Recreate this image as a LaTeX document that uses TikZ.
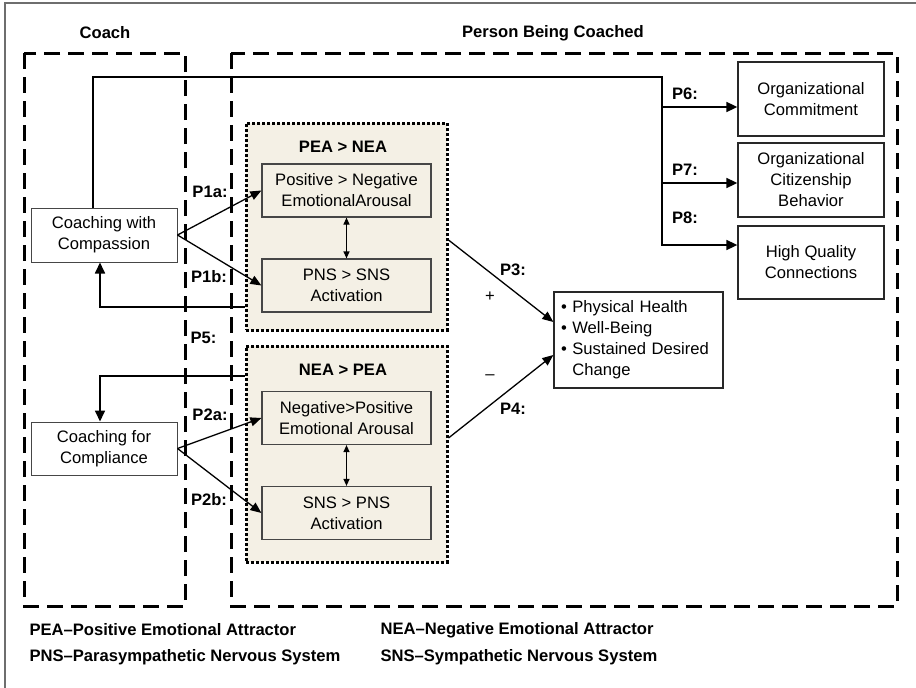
\documentclass[tikz,border=0pt]{standalone}
\usepackage{fontspec}
\setmainfont{Liberation Sans}
\usetikzlibrary{arrows.meta}
\begin{document}
\begin{tikzpicture}[x=1pt,y=-1pt,
  every node/.style={font=\fontsize{16.6}{21}\selectfont,text=black},
  lab/.style={font=\fontsize{16.6}{21}\selectfont\bfseries},
  box/.style={draw=boxcolor,line width=1.3pt,fill=white,align=center,inner sep=0pt,minimum width=146pt},
  innerbox/.style={draw=innercolor,line width=1.2pt,fill=zonecolor,align=center,inner sep=0pt,minimum width=169pt,minimum height=53pt},
  zone/.style={draw=black,line width=3pt,dash pattern=on 3pt off 2pt,fill=zonecolor,inner sep=0pt,minimum width=201pt},
  side/.style={draw=black,line width=3pt,dash pattern=on 16pt off 8pt},
  link/.style={line width=1.7pt,-{Triangle[length=11pt,width=10pt]}},
  fan/.style={line width=1.3pt,-{Triangle[length=11pt,width=9pt]}},
  swap/.style={line width=1.2pt,{Triangle[length=7pt,width=6pt]}-{Triangle[length=7pt,width=6pt]}}]
\definecolor{framecolor}{RGB}{110,110,110}
\definecolor{zonecolor}{RGB}{244,240,229}
\definecolor{boxcolor}{RGB}{40,40,40}
\definecolor{innercolor}{RGB}{70,70,70}
\useasboundingbox (0,0) rectangle (916,688);
\draw [line width=1.3pt,framecolor] (5,688) -- (5,3) -- (916,3);
\node [lab] at (105,33) {Coach};
\node [lab] at (553,33) {Person Being Coached};
\draw [side] (24,53) rectangle (185,606);
\draw [side] (231,53) rectangle (897,606);
\node [zone,minimum height=207pt] (pea) at (346.5,226.5) {};
\node [zone,minimum height=216pt] (nea) at (346.5,454) {};
\node [lab] at (343,147) {PEA > NEA};
\node [lab] at (343,370) {NEA > PEA};
\node [innerbox] (posneg) at (346.5,190.5) {Positive > Negative\\EmotionalArousal};
\node [innerbox] (pns) at (346.5,285.5) {PNS > SNS\\Activation};
\node [innerbox] (negpos) at (346.5,418) {Negative>Positive\\Emotional Arousal};
\node [innerbox] (sns) at (346.5,513) {SNS > PNS\\Activation};
\node [box,draw=innercolor,line width=1pt,minimum height=54pt] (comp) at (104,235) {Coaching with\\Compassion};
\node [box,draw=innercolor,line width=1pt,minimum height=53pt] (compl) at (104,448.5) {Coaching for\\Compliance};
\node [box,minimum height=74pt] (oc) at (811,99) {Organizational\\Commitment};
\node [box,minimum height=74pt] (ocb) at (811,180) {Organizational\\Citizenship\\Behavior};
\node [box,minimum height=73pt] (hqc) at (811,262.5) {High Quality\\Connections};
\node [box,minimum width=169pt,minimum height=96pt,align=left,text width=155pt,inner xsep=7pt] (outcome) at (638.5,340)
  {\textbullet\ Physical Health\\\textbullet\ Well-Being\\\textbullet\ Sustained Desired\\\phantom{\textbullet\ }Change};
\draw [swap] (posneg) -- (pns);
\draw [swap] (negpos) -- (sns);
\draw [fan] (comp.east) -- (posneg.west);
\draw [fan] (comp.east) -- (pns.west);
\draw [fan] (compl.east) -- (negpos.west);
\draw [fan] (compl.east) -- (sns.west);
\draw [link] ([yshift=-80.5pt]pea.west) -| ([xshift=-4pt]comp.south);
\draw [link] ([yshift=78pt]nea.west) -| ([xshift=-4pt]compl.north);
\draw [fan] ([yshift=-13.5pt]pea.east) -- ([yshift=18pt]outcome.west);
\draw [fan] ([yshift=16pt]nea.east) -- ([yshift=-15pt]outcome.west);
\coordinate (spine) at (93,77);
\coordinate (split) at (662,77);
\coordinate (ocin) at ([yshift=-8pt]oc.west);
\coordinate (ocbin) at ([yshift=-3pt]ocb.west);
\draw [link] ([xshift=-11pt]comp.north) |- (split) |- ([yshift=17.5pt]hqc.west);
\draw [link] (split |- ocin) -- (ocin);
\draw [link] (split |- ocbin) -- (ocbin);
\node [lab] at (210,192) {P1a:};
\node [lab] at (209,277) {P1b:};
\node [lab] at (203.5,338) {P5:};
\node [lab] at (210,415) {P2a:};
\node [lab] at (209,500) {P2b:};
\node [lab] at (513,270) {P3:};
\node [lab] at (513,409) {P4:};
\node at (490,297) {+};
\node at (490,377) {–};
\node [lab] at (685,94) {P6:};
\node [lab] at (685,170) {P7:};
\node [lab] at (685,218) {P8:};
\node [lab,anchor=west] at (26,630) {PEA–Positive Emotional Attractor};
\node [lab,anchor=west] at (26,657) {PNS–Parasympathetic Nervous System};
\node [lab,anchor=west] at (377,630) {NEA–Negative Emotional Attractor};
\node [lab,anchor=west] at (377,657) {SNS–Sympathetic Nervous System};
\end{tikzpicture}
\end{document}
